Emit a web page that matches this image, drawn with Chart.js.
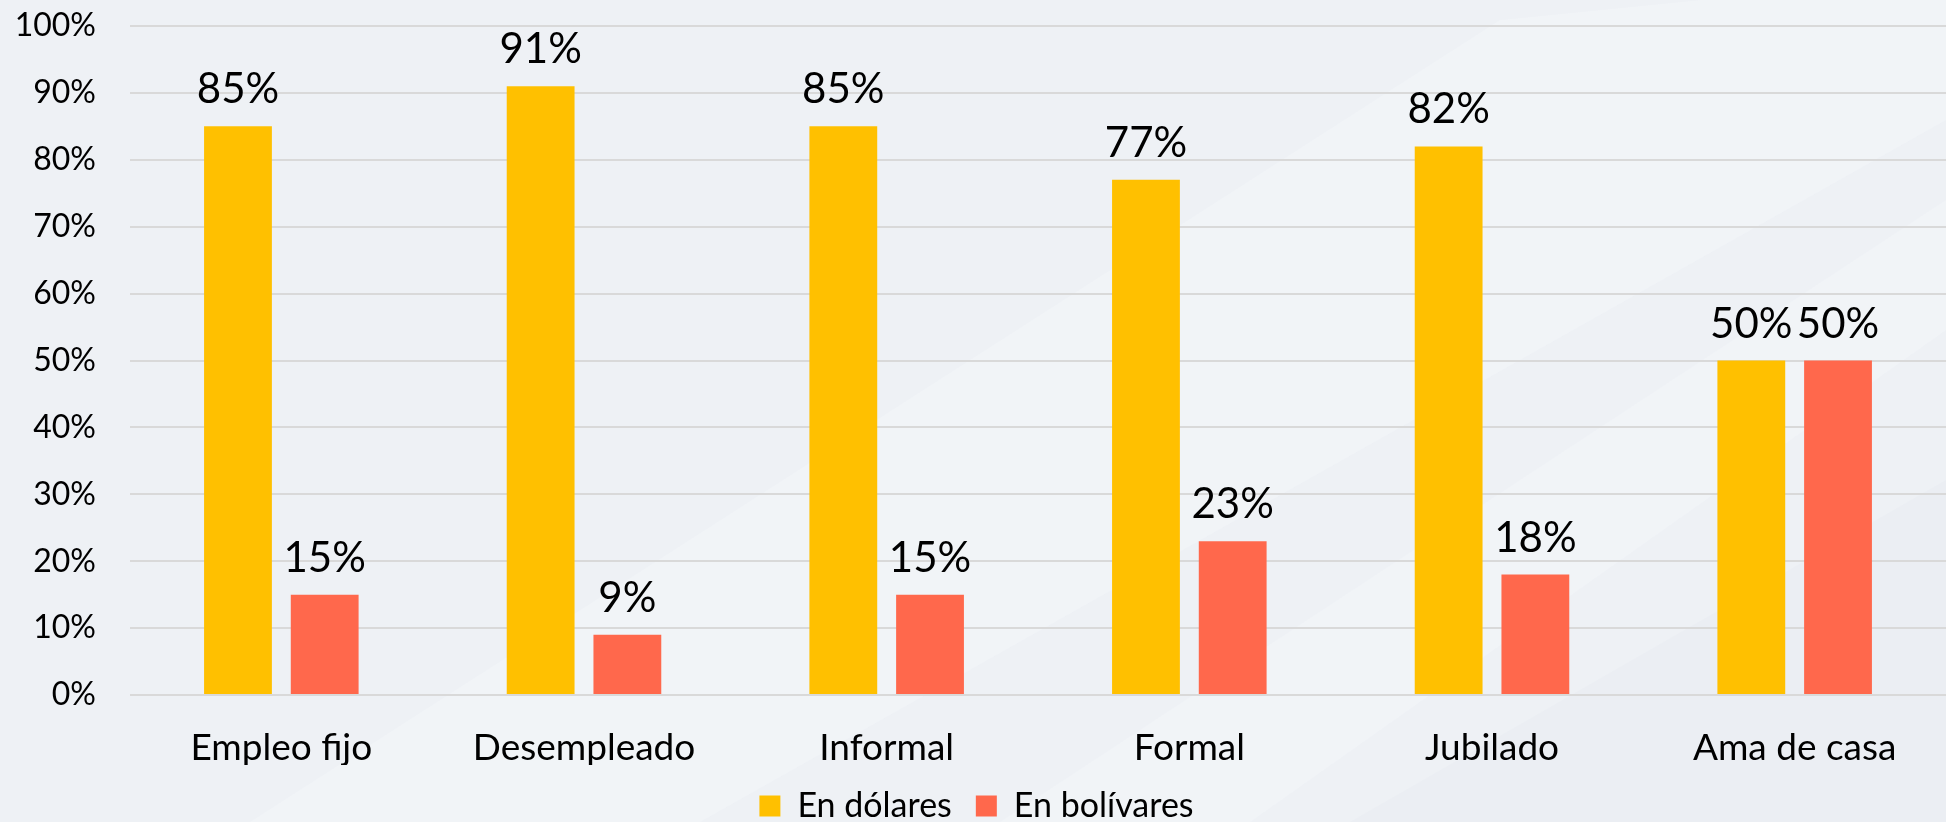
<!DOCTYPE html>
<html>
<head>
<meta charset="utf-8">
<script src="https://cdn.jsdelivr.net/npm/chart.js@4.4.1/dist/chart.umd.min.js"></script>
<style>
  html, body { margin: 0; padding: 0; background: #eef1f5; }
  #wrap { width: 1946px; height: 822px; position: relative; }
</style>
</head>
<body>
<div id="wrap"><canvas id="c" width="1946" height="822"></canvas></div>
<script>
const categories = ["Empleo fijo", "Desempleado", "Informal", "Formal", "Jubilado", "Ama de casa"];
const enDolares = [85, 91, 85, 77, 82, 50];
const enBolivares = [15, 9, 15, 23, 18, 50];
const seriesNames = ["En dólares", "En bolívares"];
const yTickValues = [0, 10, 20, 30, 40, 50, 60, 70, 80, 90, 100];

const FONT = "Lato, 'Noto Sans', sans-serif";

const bgPlugin = {
  id: 'bg',
  beforeDraw(chart) {
    const ctx = chart.ctx, w = chart.width, h = chart.height;
    ctx.save();
    ctx.fillStyle = '#eef1f5';
    ctx.fillRect(0, 0, w, h);
    ctx.globalAlpha = 0.35;
    ctx.fillStyle = '#f7f9fb';
    ctx.beginPath();
    ctx.moveTo(1000, h); ctx.lineTo(w, 200); ctx.lineTo(w, 330); ctx.lineTo(1250, h); ctx.closePath();
    ctx.fill();
    ctx.beginPath();
    ctx.moveTo(250, h); ctx.lineTo(1500, 20); ctx.lineTo(1700, 0); ctx.lineTo(w, 0); ctx.lineTo(w, 120); ctx.lineTo(700, h); ctx.closePath();
    ctx.fill();
    ctx.globalAlpha = 0.25;
    ctx.fillStyle = '#e4e7ef';
    ctx.beginPath();
    ctx.moveTo(1350, h); ctx.lineTo(w, 480); ctx.lineTo(w, h); ctx.closePath();
    ctx.fill();
    ctx.restore();
  }
};

const labelPlugin = {
  id: 'valueLabels',
  afterDatasetsDraw(chart) {
    const ctx = chart.ctx;
    ctx.save();
    ctx.font = "42px " + FONT;
    ctx.fillStyle = '#000';
    ctx.textAlign = 'center';
    ctx.textBaseline = 'alphabetic';
    chart.data.datasets.forEach((ds, di) => {
      const meta = chart.getDatasetMeta(di);
      meta.data.forEach((bar, i) => {
        ctx.fillText(ds.data[i] + '%', bar.x, bar.y - 23);
      });
    });
    ctx.restore();
  }
};

new Chart(document.getElementById('c'), {
  type: 'bar',
  data: {
    labels: categories,
    datasets: [
      { label: seriesNames[0], data: enDolares, backgroundColor: '#FFC000', categoryPercentage: 0.573, barPercentage: 0.782 },
      { label: seriesNames[1], data: enBolivares, backgroundColor: '#FF684C', categoryPercentage: 0.573, barPercentage: 0.782 }
    ]
  },
  options: {
    responsive: false,
    animation: false,
    devicePixelRatio: 1,
    layout: { padding: { top: 26, right: -7, bottom: -11, left: 0 } },
    plugins: {
      legend: {
        position: 'bottom',
        labels: {
          color: '#000',
          font: { family: FONT, size: 34 },
          boxWidth: 21,
          boxHeight: 21,
          padding: 24
        }
      },
      tooltip: { enabled: false }
    },
    scales: {
      x: {
        afterFit(scale) { scale.height = 70; },
        grid: { display: false, drawTicks: false },
        border: { display: false },
        ticks: { color: '#000', font: { family: FONT, size: 37 }, padding: 31, maxRotation: 0, autoSkip: false }
      },
      y: {
        min: 0, max: 100,
        afterFit(scale) { scale.width = 130; scale.paddingTop = 0; scale.paddingBottom = 0; },
        afterBuildTicks(scale) { scale.ticks = yTickValues.map(v => ({ value: v })); },
        grid: { color: '#d9d9d9', lineWidth: 2, drawTicks: false },
        border: { display: false },
        ticks: { color: '#000', font: { family: FONT, size: 32 }, padding: 34, callback: v => v + '%' }
      }
    }
  },
  plugins: [bgPlugin, labelPlugin]
});
</script>
</body>
</html>
